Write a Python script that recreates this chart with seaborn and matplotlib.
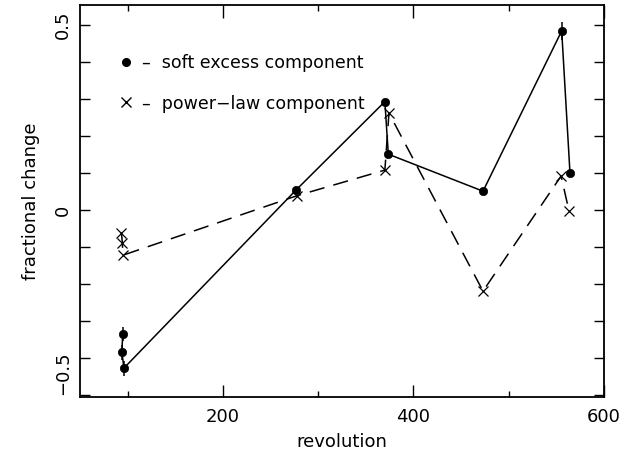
import matplotlib
matplotlib.use("Agg")
import matplotlib.pyplot as plt
import seaborn as sns
from matplotlib.lines import Line2D
from matplotlib.ticker import MultipleLocator, FuncFormatter

# soft excess component (dots, solid line)
soft_rev = [94.8, 94.0, 96.1, 276.7, 370.0, 373.6, 473.0, 555.6, 564.3]
soft_val = [-0.335, -0.384, -0.427, 0.054, 0.293, 0.151, 0.051, 0.484, 0.100]
soft_err = [0.02, 0.02, 0.02, 0.0, 0.0, 0.0, 0.0, 0.025, 0.0]

# power-law component (crosses, dashed line)
pl_rev = [93.5, 94.5, 95.0, 278.0, 370.0, 374.3, 473.0, 555.0, 563.3]
pl_val = [-0.061, -0.090, -0.122, 0.039, 0.108, 0.262, -0.219, 0.092, -0.003]

y_labels = {0.5: "0.5", 0.0: "0", -0.5: "\u22120.5"}

sns.set_style("ticks")
plt.rcParams["font.family"] = ["DejaVu Sans"]
plt.rcParams["text.color"] = "black"
plt.rcParams["axes.labelcolor"] = "black"

fig = plt.figure(figsize=(6.38, 4.54), dpi=100)
ax = fig.add_axes([80 / 638, 1 - 397 / 454, 524 / 638, 392 / 454])

ax.errorbar(soft_rev, soft_val, yerr=soft_err, fmt="none", ecolor="black",
            elinewidth=1.1, capsize=0)
sns.lineplot(x=soft_rev, y=soft_val, sort=False, ax=ax, color="black",
             lw=1.1, marker="o", markersize=6, markeredgecolor="black",
             markeredgewidth=0.5)
sns.lineplot(x=pl_rev, y=pl_val, sort=False, ax=ax, color="black",
             lw=1.1, linestyle=(0, (10, 6)), marker="x", markersize=7,
             markeredgecolor="black", markeredgewidth=0.9)

ax.set_xlim(50, 600)
ax.set_ylim(-0.505, 0.554)

ax.xaxis.set_major_locator(MultipleLocator(200))
ax.xaxis.set_minor_locator(MultipleLocator(100))
ax.yaxis.set_major_locator(MultipleLocator(0.1))
ax.yaxis.set_major_formatter(FuncFormatter(
    lambda v, p: y_labels.get(round(v, 2), "")))
ax.tick_params(which="both", direction="in", top=True, right=True,
               width=1.0, labelsize=13, colors="black")
ax.tick_params(axis="x", which="major", length=9, pad=8)
ax.tick_params(axis="x", which="minor", length=4)
ax.tick_params(axis="y", which="major", length=7, pad=6)
for s in ax.spines.values():
    s.set_linewidth(1.3)
    s.set_color("black")

ax.set_xlabel("revolution", fontsize=13, labelpad=5)
ax.set_ylabel("fractional change", fontsize=13, labelpad=10)

handles = [
    Line2D([], [], color="black", marker="o", markersize=5.5, linestyle="none"),
    Line2D([], [], color="black", marker="x", markersize=7, linestyle="none"),
]
ax.legend(handles, ["\u2013  soft excess component", "\u2013  power\u2212law component"],
          loc="upper left", bbox_to_anchor=(0.045, 0.915), frameon=False,
          fontsize=12.5, handlelength=0.8, handletextpad=0.5, labelspacing=1.3)

fig.canvas.draw()
for tick in ax.yaxis.get_major_ticks():
    lab = tick.label1
    lab.set_rotation(90)
    lab.set_va("bottom" if round(tick.get_loc(), 2) == -0.5 else "center")

fig.savefig("out.png", dpi=100)
